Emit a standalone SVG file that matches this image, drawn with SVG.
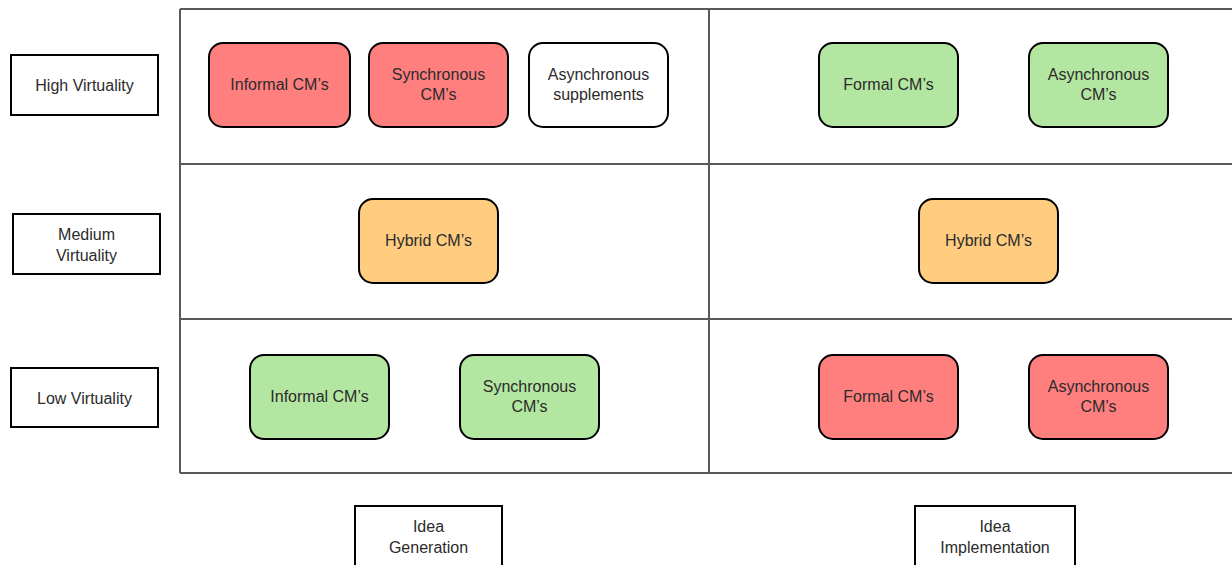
<svg xmlns="http://www.w3.org/2000/svg" width="1232" height="565" viewBox="0 0 1232 565">
  <style>
    .grid { fill: none; stroke: #595959; stroke-width: 2; }
    .label rect { fill: #ffffff; stroke: #000000; stroke-width: 2; }
    .node rect { stroke: #000000; stroke-width: 2; }
    .red rect { fill: #ff7f7f; }
    .green rect { fill: #b3e6a1; }
    .orange rect { fill: #ffcc80; }
    .white rect { fill: #ffffff; }
    text { font-family: "Liberation Sans", Arial, sans-serif; font-size: 16px; fill: #2b2b2b; text-anchor: middle; }
  </style>
  <rect width="1232" height="565" fill="#ffffff"/>

  <!-- Matrix grid -->
  <g id="connectors">
    <path class="grid" d="M180 9 H1240 M180 164 H1240 M180 319 H1240 M180 473 H1240 M180 9 V473 M709 9 V473"/>
  </g>

  <!-- Row labels -->
  <g id="label-high" class="label"><rect x="11" y="55" width="147" height="60"/><text x="84.5" y="91">High Virtuality</text></g>
  <g id="label-medium" class="label"><rect x="13" y="214" width="147" height="60"/><text x="86.5" y="240">Medium</text><text x="86.5" y="261">Virtuality</text></g>
  <g id="label-low" class="label"><rect x="11" y="368" width="147" height="59"/><text x="84.5" y="404">Low Virtuality</text></g>

  <!-- Column labels -->
  <g id="label-generation" class="label"><rect x="355" y="506" width="147" height="70"/><text x="428.5" y="532">Idea</text><text x="428.5" y="553">Generation</text></g>
  <g id="label-implementation" class="label"><rect x="915" y="506" width="160" height="70"/><text x="995" y="532">Idea</text><text x="995" y="553">Implementation</text></g>

  <!-- High virtuality row -->
  <g id="high-gen-informal" class="node red"><rect x="209" y="43" width="141" height="84" rx="14"/><text x="279.5" y="90">Informal CM’s</text></g>
  <g id="high-gen-sync" class="node red"><rect x="369" y="43" width="139" height="84" rx="14"/><text x="438.5" y="80">Synchronous</text><text x="438.5" y="100">CM’s</text></g>
  <g id="high-gen-async" class="node white"><rect x="529" y="43" width="139" height="84" rx="14"/><text x="598.5" y="80">Asynchronous</text><text x="598.5" y="100">supplements</text></g>
  <g id="high-impl-formal" class="node green"><rect x="819" y="43" width="139" height="84" rx="14"/><text x="888.5" y="90">Formal CM’s</text></g>
  <g id="high-impl-async" class="node green"><rect x="1029" y="43" width="139" height="84" rx="14"/><text x="1098.5" y="80">Asynchronous</text><text x="1098.5" y="100">CM’s</text></g>

  <!-- Medium virtuality row -->
  <g id="med-gen-hybrid" class="node orange"><rect x="359" y="199" width="139" height="84" rx="14"/><text x="428.5" y="246">Hybrid CM’s</text></g>
  <g id="med-impl-hybrid" class="node orange"><rect x="919" y="199" width="139" height="84" rx="14"/><text x="988.5" y="246">Hybrid CM’s</text></g>

  <!-- Low virtuality row -->
  <g id="low-gen-informal" class="node green"><rect x="250" y="355" width="139" height="84" rx="14"/><text x="319.5" y="402">Informal CM’s</text></g>
  <g id="low-gen-sync" class="node green"><rect x="460" y="355" width="139" height="84" rx="14"/><text x="529.5" y="392">Synchronous</text><text x="529.5" y="412">CM’s</text></g>
  <g id="low-impl-formal" class="node red"><rect x="819" y="355" width="139" height="84" rx="14"/><text x="888.5" y="402">Formal CM’s</text></g>
  <g id="low-impl-async" class="node red"><rect x="1029" y="355" width="139" height="84" rx="14"/><text x="1098.5" y="392">Asynchronous</text><text x="1098.5" y="412">CM’s</text></g>
</svg>
